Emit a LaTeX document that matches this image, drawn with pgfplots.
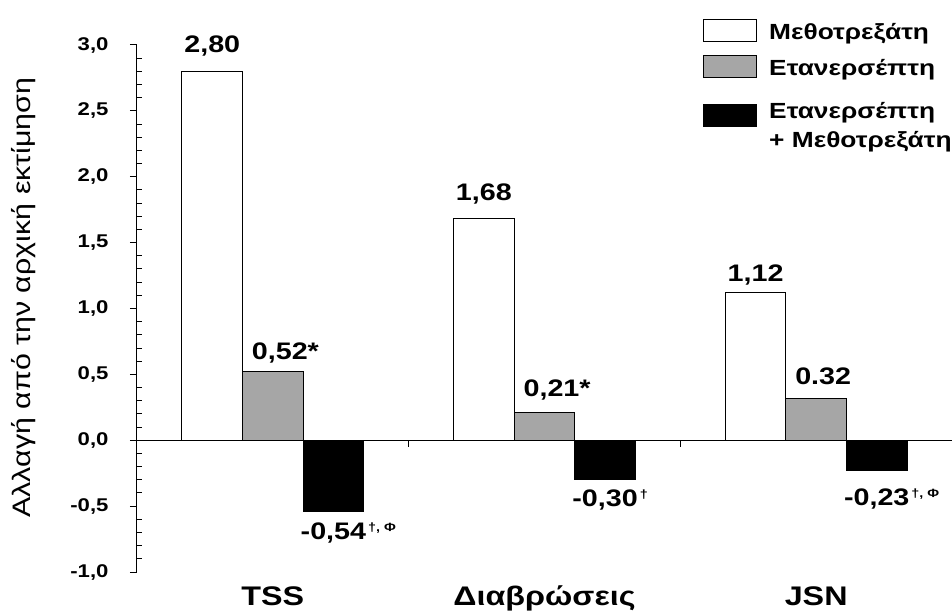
\documentclass[border=0pt]{standalone}
\usepackage{fontspec}
\setmainfont{Liberation Sans}[FakeStretch=1.2]
\usepackage{pgfplots}
\usepackage{pgfplotstable}
\pgfplotsset{compat=1.18}
\definecolor{barGray}{RGB}{166,166,166}
\newcommand\supx[1]{\rlap{\smash{\raisebox{8bp}{\fontsize{12}{12}\selectfont\,#1}}}}
\pgfplotsset{
  boxlegend/.style={legend image code/.code={\draw[##1, line width=1bp] (0bp,-9bp) rectangle (53bp,13bp);}},
  tallboxlegend/.style={legend image code/.code={\draw[##1, line width=1bp] (0bp,-5.9bp) rectangle (53bp,16.1bp);}},
}

\pgfplotstableread[col sep=semicolon,row sep=\\]{
x;y;dy;lbl\\
0;2.80;11;2,80\\
1;1.68;11;1,68\\
2;1.12;4;1,12\\
}\tMTX
\pgfplotstableread[col sep=semicolon,row sep=\\]{
x;y;dy;lbl\\
0;0.52;5;0,52\rlap{*}\\
1;0.21;9;0,21\rlap{*}\\
2;0.32;10;0.32\\
}\tETN
\pgfplotstableread[col sep=semicolon,row sep=\\]{
x;y;dy;lbl\\
0;-0.54;-8;-0,54\supx{†, Φ}\\
1;-0.30;-6;-0,30\supx{†}\\
2;-0.23;-14;-0,23\supx{†, Φ}\\
}\tBOTH

\begin{document}
\begin{tikzpicture}
\begin{axis}[
  name=ax,
  scale only axis, width=815bp, height=527bp,
  xmin=-0.5, xmax=2.5, ymin=-1, ymax=3,
  axis lines*=left,
  axis line style={line width=1bp},
  x axis line style={draw=none},
  xtick={0,1,2}, xticklabels={TSS,Διαβρώσεις,JSN},
  major x tick style={draw=none},
  xticklabel style={font=\fontsize{27}{27}\selectfont\bfseries, anchor=base, yshift=-26bp},
  ytick={-1,-0.5,...,3},
  minor y tick num=4,
  tick align=outside,
  major tick length=7bp, minor tick length=-5bp,
  every tick/.append style={line width=1bp, black},
  yticklabel style={font=\fontsize{18.5}{18.5}\selectfont\bfseries, xshift=-18bp,
    /pgf/number format/.cd, fixed, fixed zerofill, precision=1, use comma, assume math mode=true},
  ylabel={Αλλαγή από την αρχική εκτίμηση},
  every axis y label/.style={at={([xshift=-113bp,yshift=11bp]axis description cs:0,0.5)}, rotate=90, anchor=center, font=\fontsize{25.4}{25.4}\selectfont},
  ybar=0pt, bar width=0.223,
  nodes near coords,
  point meta=explicit symbolic,
  visualization depends on={\thisrow{dy} \as \labdy},
  every node near coord/.append style={font=\fontsize{24}{24}\selectfont\bfseries},
  boxlegend,
  legend cell align=left,
  legend style={at={(0.6945,1.0497)}, anchor=north west, draw=none, fill=none, inner sep=0pt,
    font=\fontsize{22}{29}\selectfont\bfseries, row sep=11.5bp, column sep=10bp,
    nodes={align=left}},
]
\addplot[draw=black, line width=1bp, fill=white,
  every node near coord/.append style={anchor=south, yshift=\labdy*1bp}] table[x=x, y=y, meta=lbl] {\tMTX};
\addlegendentry{Μεθοτρεξάτη}
\addplot[draw=black, line width=1bp, fill=barGray,
  every node near coord/.append style={anchor=south, yshift=\labdy*1bp, xshift=7bp}] table[x=x, y=y, meta=lbl] {\tETN};
\addlegendentry{Ετανερσέπτη}
\addplot[draw=black, line width=1bp, fill=black,
  every node near coord/.append style={anchor=north, yshift=\labdy*1bp},
  tallboxlegend] table[x=x, y=y, meta=lbl] {\tBOTH};
\addlegendentry{\rule{0pt}{26bp}Ετανερσέπτη\\+ Μεθοτρεξάτη}
\draw[line width=1bp] (axis cs:-0.5,0) -- (axis cs:2.5,0);
\draw[line width=1bp] (axis cs:0.5,0) -- ++(0pt,-7pt);
\draw[line width=1bp] (axis cs:1.5,0) -- ++(0pt,-7pt);
\end{axis}
\pgfresetboundingbox
\path[use as bounding box] ([shift={(-137bp,-43bp)}]ax.south west) rectangle ([shift={(0bp,45bp)}]ax.north east);
\end{tikzpicture}
\end{document}
